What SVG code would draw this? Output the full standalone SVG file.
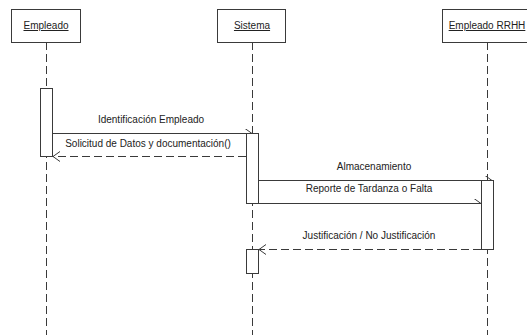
<svg xmlns="http://www.w3.org/2000/svg" width="527" height="335" viewBox="0 0 527 335">
<style>
.box{fill:#fff;stroke:#3a3a3a;stroke-width:1}
.act{fill:#fff;stroke:#3a3a3a;stroke-width:1}
.life{stroke:#3a3a3a;stroke-width:1;stroke-dasharray:8,4;fill:none}
.msg{stroke:#3a3a3a;stroke-width:1;fill:none}
.ret{stroke:#3a3a3a;stroke-width:1;fill:none;stroke-dasharray:8,4}
.t{font-family:"Liberation Sans",Arial,sans-serif;font-size:10px;fill:#222;text-anchor:middle}
.u{text-decoration:underline}
</style>
<defs>
<marker id="half" markerUnits="userSpaceOnUse" markerWidth="10" markerHeight="10" viewBox="0 0 10 10" refX="7" refY="5" orient="auto">
<path d="M0,0 L7,5" fill="none" stroke="#3a3a3a" stroke-width="1"/>
</marker>
<marker id="open" markerUnits="userSpaceOnUse" markerWidth="10" markerHeight="12" viewBox="0 0 10 12" refX="7" refY="6" orient="auto">
<path d="M0,1 L7,6 L0,11" fill="none" stroke="#3a3a3a" stroke-width="1"/>
</marker>
</defs>
<g id="connectors">
<line class="msg" x1="52.5" y1="133.5" x2="252" y2="133.5" marker-end="url(#half)"/>
<line class="ret" x1="246" y1="156.5" x2="53" y2="156.5" marker-end="url(#open)"/>
<line class="msg" x1="258.5" y1="180.5" x2="492" y2="180.5" marker-end="url(#half)"/>
<line class="msg" x1="258.5" y1="203.5" x2="481" y2="203.5" marker-end="url(#half)"/>
<line class="ret" x1="481" y1="249.5" x2="259" y2="249.5" marker-end="url(#open)"/>
<text class="t" x="151" y="123">Identificación Empleado</text>
<text class="t" x="148" y="147">Solicitud de Datos y documentación()</text>
<text class="t" x="374" y="170">Almacenamiento</text>
<text class="t" x="369" y="192">Reporte de Tardanza o Falta</text>
<text class="t" x="369" y="239">Justificación / No Justificación</text>
</g>
<g id="empleado">
<line class="life" x1="46.5" y1="42" x2="46.5" y2="335"/>
<rect class="box" x="11.5" y="9.5" width="69" height="33"/>
<text class="t u" x="46" y="29">Empleado</text>
<rect class="act" x="40.5" y="88.5" width="12" height="68"/>
</g>
<g id="sistema">
<line class="life" x1="252.5" y1="42" x2="252.5" y2="335"/>
<rect class="box" x="217.5" y="9.5" width="68" height="33"/>
<text class="t u" x="252" y="29">Sistema</text>
<rect class="act" x="246.5" y="133.5" width="12" height="70"/>
<rect class="act" x="246.5" y="249.5" width="12" height="24"/>
</g>
<g id="rrhh">
<line class="life" x1="487.5" y1="42" x2="487.5" y2="335"/>
<rect class="box" x="442.5" y="9.5" width="90" height="33"/>
<text class="t u" x="487" y="29">Empleado RRHH</text>
<rect class="act" x="481.5" y="180.5" width="12" height="69"/>
</g>
</svg>
